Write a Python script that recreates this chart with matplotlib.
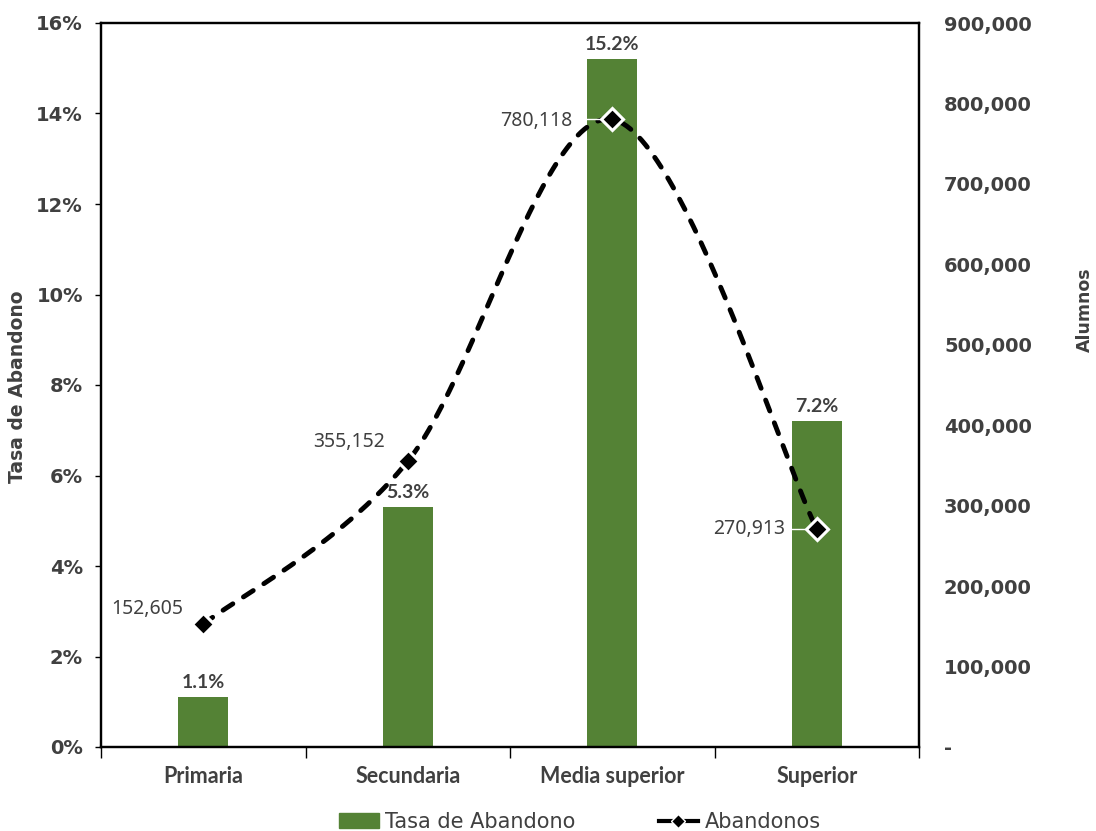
import numpy as np
import matplotlib
matplotlib.use("Agg")
import matplotlib.pyplot as plt
from matplotlib.ticker import FuncFormatter, MultipleLocator
from matplotlib.lines import Line2D
from matplotlib.patches import Patch

categories = ["Primaria", "Secundaria", "Media superior", "Superior"]
tasa = [1.1, 5.3, 15.2, 7.2]
abandonos = [152605, 355152, 780118, 270913]

GREEN = "#548235"
GRAY = "#404040"
WIDE = ["DejaVu Sans"]
NARROW = ["Noto Sans", "DejaVu Sans"]
BOLDN = ["Lato", "DejaVu Sans"]

plt.rcParams["font.family"] = WIDE

fig = plt.figure(figsize=(10.96, 8.31), dpi=100)
ax = fig.add_axes([101/1096, 1 - 747/831, 818/1096, 724/831])
ax2 = ax.twinx()

x = np.arange(len(categories))
ax.bar(x, np.array(tasa) / 100, width=0.245, color=GREEN, zorder=2)
ax.set_xlim(-0.5, 3.5)
ax.set_ylim(0, 0.16)
ax.yaxis.set_major_locator(MultipleLocator(0.02))
ax.yaxis.set_major_formatter(FuncFormatter(lambda v, p: f"{v*100:.0f}%"))

for xi, v in zip(x, tasa):
    ax.text(xi, v / 100 + 0.0013, f"{v:.1f}%", ha="center", va="bottom",
            fontsize=14, fontweight="bold", color=GRAY, family=BOLDN)

# smooth line (Bezier through the data points, Excel-style)
def smooth(xs, ys, n=60):
    xs = np.asarray(xs, float); ys = np.asarray(ys, float)
    px = np.concatenate([[xs[0]], xs, [xs[-1]]])
    py = np.concatenate([[ys[0]], ys, [ys[-1]]])
    outx, outy = [], []
    t = np.linspace(0, 1, n)
    for i in range(1, len(px) - 2):
        p0 = np.array([px[i], py[i]]); p3 = np.array([px[i+1], py[i+1]])
        c1 = p0 + (np.array([px[i+1], py[i+1]]) - np.array([px[i-1], py[i-1]])) / 6
        c2 = p3 - (np.array([px[i+2], py[i+2]]) - np.array([px[i], py[i]])) / 6
        b = ((1-t)**3)[:, None]*p0 + (3*(1-t)**2*t)[:, None]*c1 + (3*(1-t)*t**2)[:, None]*c2 + (t**3)[:, None]*p3
        outx.extend(b[:, 0]); outy.extend(b[:, 1])
    return np.array(outx), np.array(outy)

sx, sy = smooth(x, abandonos)
ax2.plot(sx, sy, color="black", lw=3.5, ls=(0, (2.4, 2.6)), dash_capstyle="round",
         zorder=3)

offsets = [(-0.10, 18600), (-0.11, 23600), (-0.195, -2500), (-0.156, 0)]
for i, (xi, v, (dx, dy)) in enumerate(zip(x, abandonos, offsets)):
    ax2.text(xi + dx, v + dy, f"{v:,}", ha="right", va="center",
             fontsize=14, color=GRAY, zorder=5, family=NARROW)
    if i >= 2:
        ax2.plot([xi + dx + 0.01, xi], [v, v], color="white", lw=1, zorder=3.5)

ax2.plot(x, abandonos, ls="none", marker="D", ms=11, mfc="black", mec="white",
         mew=2.2, zorder=4)
ax2.set_ylim(0, 900000)
ax2.yaxis.set_major_locator(MultipleLocator(100000))
ax2.yaxis.set_major_formatter(FuncFormatter(lambda v, p: "-" if v == 0 else f"{v:,.0f}"))

for a in (ax, ax2):
    for s in a.spines.values():
        s.set_color("black"); s.set_linewidth(1.6)
ax.tick_params(axis="y", labelsize=14, length=4, width=1, color="black", pad=9)
ax2.tick_params(axis="y", labelsize=14, length=0, pad=18)
for lbl in ax.get_yticklabels() + ax2.get_yticklabels():
    lbl.set_fontweight("bold"); lbl.set_color(GRAY)

ax.set_xticks(x)
ax.set_xticklabels(categories, fontsize=15.5, fontweight="bold", color=GRAY, family=BOLDN)
ax.tick_params(axis="x", length=0, pad=14)
ax.set_xticks(np.arange(-0.5, 4, 1), minor=True)
ax.tick_params(axis="x", which="minor", length=8, width=1, color="black")

fig.text(18/1096, 1 - 387/831, "Tasa de Abandono", rotation=90, ha="center", va="center",
         fontsize=13.5, fontweight="bold", color=GRAY)
fig.text(1085/1096, 1 - 310/831, "Alumnos", rotation=90, ha="center", va="center",
         fontsize=12.5, fontweight="bold", color=GRAY)

handles = [Patch(color=GREEN, label="Tasa de Abandono"),
           Line2D([], [], color="black", lw=3, marker="D", ms=7, mfc="black",
                  mec="white", label="Abandonos")]
fig.legend(handles=handles, loc="center", bbox_to_anchor=(0.529, 1 - 822/831),
           ncol=2, frameon=False, fontsize=15, labelcolor=GRAY,
           handlelength=1.9, columnspacing=4.0, handletextpad=0.3)

fig.savefig("out.png", dpi=100)
